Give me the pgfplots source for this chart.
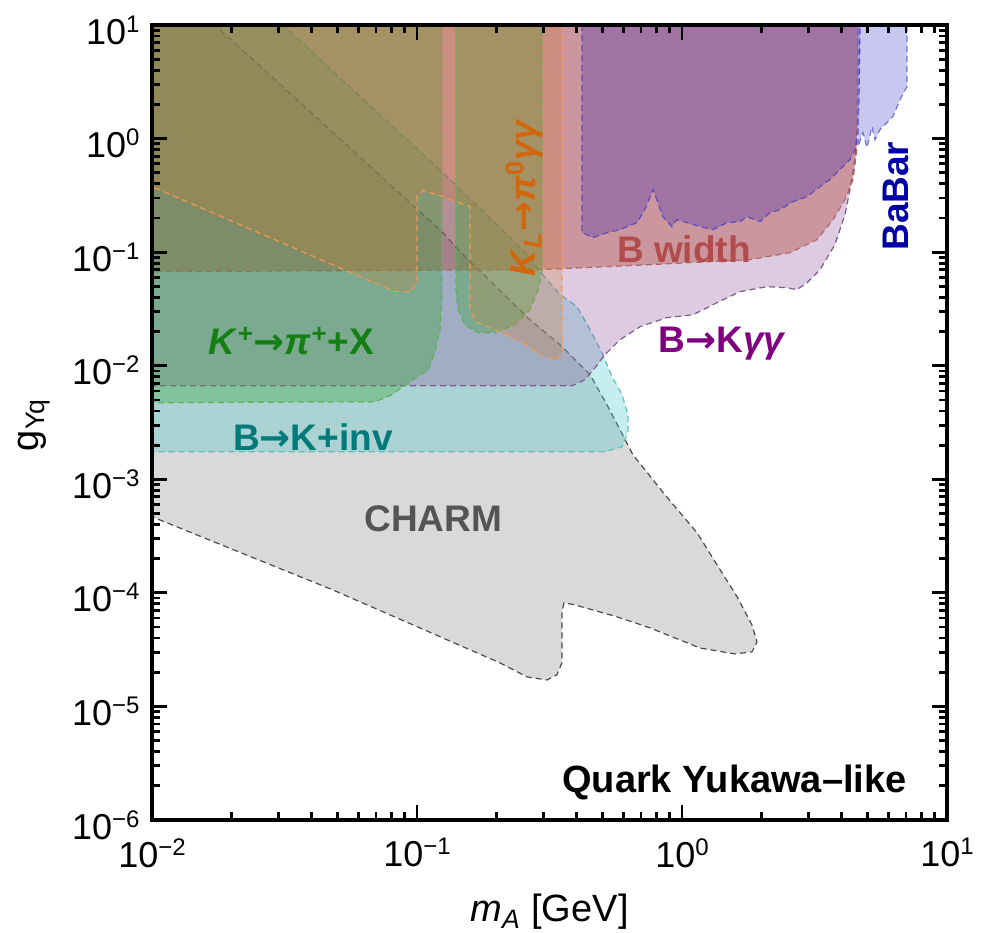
\documentclass[border=0pt]{standalone}
\usepackage{fontspec}
\setmainfont{Liberation Sans}
\newfontfamily\arrowfont{DejaVu Sans}
\usepackage{pgfplots}
\pgfplotsset{compat=1.18}

\definecolor{charmF}{rgb}{0.5,0.5,0.5}
\definecolor{charmD}{rgb}{0.3,0.3,0.3}
\definecolor{tealF}{rgb}{0.28,0.78,0.78}
\definecolor{tealD}{rgb}{0.35,0.75,0.75}
\definecolor{kggF}{rgb}{0.54,0.32,0.61}
\definecolor{kggD}{rgb}{0.5,0.35,0.55}
\definecolor{bwF}{rgb}{0.68,0.2,0.12}
\definecolor{bwD}{rgb}{0.7,0.4,0.4}
\definecolor{dpF}{rgb}{0.32,0.2,0.68}
\definecolor{dpD}{rgb}{0.35,0.3,0.75}
\definecolor{grF}{rgb}{0.2,0.65,0.2}
\definecolor{grD}{rgb}{0.35,0.7,0.35}
\definecolor{orF}{rgb}{0.82,0.48,0.18}
\definecolor{orD}{rgb}{0.95,0.6,0.3}
\definecolor{bbF}{rgb}{0.28,0.28,0.8}
\definecolor{bbD}{rgb}{0.45,0.45,0.85}
% label colours
\definecolor{tGreen}{rgb}{0.08,0.5,0.08}
\definecolor{tTeal}{rgb}{0,0.48,0.48}
\definecolor{tCharm}{rgb}{0.33,0.33,0.33}
\definecolor{tOrange}{rgb}{0.82,0.4,0.05}
\definecolor{tBw}{rgb}{0.7,0.3,0.3}
\definecolor{tPurple}{rgb}{0.5,0,0.5}
\definecolor{tBlue}{rgb}{0,0,0.65}

\newcommand{\tl}[1]{10\raisebox{6pt}{\fontsize{12}{12}\selectfont #1}}
\newcommand{\ar}{{\arrowfont →}}

\begin{document}
\begin{tikzpicture}
\begin{axis}[
  at={(0,0)}, anchor=south west,
  scale only axis, width=397.5pt, height=397.5pt,
  xmode=log, ymode=log,
  xmin=0.01, xmax=10, ymin=1e-6, ymax=10,
  axis on top,
  tick align=inside,
  major tick length=7.5pt, minor tick length=4pt,
  axis line style={line width=1.8pt},
  tick style={black, line width=1.4pt},
  xtick={0.01,0.1,1,10},
  xticklabels={\tl{−2},\tl{−1},\tl{0},\tl{1}},
  ytick={1e-6,1e-5,1e-4,1e-3,1e-2,1e-1,1,10},
  yticklabels={\tl{−6},\tl{−5},\tl{−4},\tl{−3},\tl{−2},\tl{−1},\tl{0},\tl{1}},
  minor xtick={0.02,0.03,0.04,0.05,0.06,0.07,0.08,0.09,0.2,0.3,0.4,0.5,0.6,0.7,0.8,0.9,2,3,4,5,6,7,8,9},
  minor ytick={2e-6,3e-6,4e-6,5e-6,6e-6,7e-6,8e-6,9e-6,2e-5,3e-5,4e-5,5e-5,6e-5,7e-5,8e-5,9e-5,2e-4,3e-4,4e-4,5e-4,6e-4,7e-4,8e-4,9e-4,2e-3,3e-3,4e-3,5e-3,6e-3,7e-3,8e-3,9e-3,0.02,0.03,0.04,0.05,0.06,0.07,0.08,0.09,0.2,0.3,0.4,0.5,0.6,0.7,0.8,0.9,2,3,4,5,6,7,8,9},
  tick label style={font=\fontsize{18}{18}\selectfont},
  xticklabel style={anchor=north, inner sep=0pt, yshift=-9pt},
  yticklabel style={anchor=east, inner sep=0pt, xshift=-6pt, yshift=-2.5pt},
  every axis plot/.append style={dash pattern=on 3pt off 2pt, line width=0.6pt},
]
% CHARM
\addplot[fill=charmF, fill opacity=0.3, draw=charmD] coordinates {
(0.01,10) (0.01729,10) (0.1253,0.1486) (0.1429,0.1052) (0.2667,0.02541) (0.3467,0.01531)
(0.4498,0.00834) (0.5212,0.00453) (0.6531,0.001644) (0.8630,7.30e-4) (1.140,3.38e-4)
(1.614,9.23e-5) (1.837,5.22e-5) (1.919,3.70e-5) (1.837,3.02e-5) (1.585,2.90e-5)
(1.169,3.27e-5) (0.7568,4.92e-5) (0.5689,6.15e-5) (0.3945,7.84e-5) (0.3589,8.17e-5)
(0.3524,6.81e-5) (0.3524,2.42e-5) (0.3373,1.90e-5) (0.3097,1.71e-5) (0.2600,1.82e-5)
(0.2056,2.42e-5) (0.0482,1.06e-4) (0.01,4.68e-4)
} -- cycle;
% B -> K + inv
\addplot[fill=tealF, fill opacity=0.3, draw=tealD] coordinates {
(0.01,10) (0.0312,10) (0.0724,1.626) (0.1253,0.501) (0.2056,0.1644) (0.2667,0.0895)
(0.3041,0.0596) (0.3467,0.0423) (0.4018,0.0331) (0.4498,0.02075) (0.4989,0.01303)
(0.5445,0.00800) (0.5943,0.00555) (0.6252,0.00370) (0.6252,0.00262) (0.5943,0.00193)
(0.5117,0.001746) (0.01,0.001746)
} -- cycle;
% B -> K gamma gamma
\addplot[fill=kggF, fill opacity=0.3, draw=kggD] coordinates {
(0.01,10) (4.613,10) (4.613,1.470) (4.498,0.653) (4.305,0.3556) (4.121,0.2138)
(3.776,0.1164) (3.319,0.0702) (2.965,0.0538) (2.716,0.0468) (2.489,0.0486) (2.094,0.0497)
(1.656,0.0449) (1.355,0.0359) (1.101,0.0281) (0.877,0.0265) (0.695,0.0221) (0.583,0.01694)
(0.5117,0.01250) (0.470,0.00960) (0.4305,0.00753) (0.3846,0.00667) (0.01,0.00667)
} -- cycle;
% B width
\addplot[fill=bwF, fill opacity=0.35, draw=bwD] coordinates {
(0.01,10) (4.613,10) (4.571,0.800) (4.418,0.4355) (4.121,0.2904) (3.715,0.1932)
(3.230,0.1288) (2.557,0.0990) (1.806,0.0859) (0.7568,0.0776) (0.2911,0.0702) (0.01,0.0673)
} -- cycle;
% dark purple region
\addplot[fill=dpF, fill opacity=0.35, draw=dpD] coordinates {
(0.4198,10) (0.4198,0.1486) (0.4613,0.1342) (0.5212,0.1486) (0.583,0.1578) (0.676,0.1820)
(0.7244,0.2366) (0.7780,0.3556) (0.8110,0.2729) (0.8472,0.2056) (0.9162,0.1679) (0.9572,0.1932)
(1.045,0.1820) (1.169,0.1679) (1.309,0.1578) (1.479,0.1820) (1.656,0.1857) (1.758,0.2056)
(1.968,0.1857) (2.148,0.2228) (2.344,0.2366) (2.624,0.2786) (2.965,0.3083) (3.319,0.3776)
(3.614,0.4355) (3.945,0.5333) (4.305,0.653) (4.498,0.800) (4.613,1.130) (4.656,2.206) (4.699,10)
} -- cycle;
% K+ -> pi+ X (two pieces)
\addplot[fill=grF, fill opacity=0.35, draw=grD] coordinates {
(0.01,10) (0.1241,10) (0.1241,0.0381) (0.1222,0.02075) (0.1169,0.01327) (0.1102,0.00923)
(0.0942,0.00723) (0.0791,0.00544) (0.0695,0.00482) (0.01,0.00472)
} -- cycle;
\addplot[fill=grF, fill opacity=0.35, draw=grD] coordinates {
(0.1403,10) (0.2965,10) (0.2965,0.0702) (0.2864,0.0468) (0.2667,0.0311) (0.2344,0.0230)
(0.1968,0.01954) (0.1698,0.01954) (0.1517,0.0230) (0.1429,0.0311) (0.1403,0.0468)
} -- cycle;
% K_L -> pi0 gamma gamma
\addplot[fill=orF, fill opacity=0.25, draw=orD] coordinates {
(0.01,10) (0.3524,10) (0.3524,0.01250) (0.3319,0.01130) (0.2911,0.01250) (0.2512,0.01595)
(0.1884,0.02163) (0.1671,0.02443) (0.1585,0.0311) (0.1585,0.2518) (0.1222,0.3148)
(0.1054,0.3483) (0.1,0.3148) (0.1,0.0538) (0.0942,0.0449) (0.0826,0.0449) (0.01,0.3776)
} -- cycle;
% BaBar
\addplot[fill=bbF, fill opacity=0.3, draw=bbD] coordinates {
(4.613,10) (7.063,10) (7.063,2.871) (6.653,2.206) (6.252,1.563) (5.585,1.200) (5.346,0.9795)
(5.212,1.276) (4.989,0.8337) (4.819,1.130) (4.613,0.851)
} -- cycle;

% labels
\node[anchor=base, inner sep=0pt, text=tGreen, font=\bfseries\fontsize{18.5}{18.5}\selectfont]
  at (axis cs:0.0336,0.0125) {\textit{K}\textsuperscript{+}\ar\textit{π}\textsuperscript{+}+X};
\node[anchor=base, inner sep=0pt, text=tTeal, font=\bfseries\fontsize{18.5}{18.5}\selectfont]
  at (axis cs:0.0405,0.00178) {B\ar K+inv};
\node[anchor=base, inner sep=0pt, text=tCharm, font=\bfseries\fontsize{18.5}{18.5}\selectfont]
  at (axis cs:0.1153,3.44e-4) {CHARM};
\node[anchor=base, inner sep=0pt, text=tBw, font=\bfseries\fontsize{18.5}{18.5}\selectfont]
  at (axis cs:1.018,0.0807) {B width};
\node[anchor=base, inner sep=0pt, text=tPurple, font=\bfseries\fontsize{18.5}{18.5}\selectfont]
  at (axis cs:1.422,0.01303) {B\ar K\textit{γγ}};
\node[anchor=base, inner sep=0pt, rotate=90, text=tBlue, font=\bfseries\fontsize{18.5}{18.5}\selectfont]
  at (axis cs:7.13,0.311) {BaBar};
\node[anchor=base, inner sep=0pt, rotate=90, text=tOrange, font=\bfseries\fontsize{18}{18}\selectfont]
  at (axis cs:0.2812,0.302) {\textit{K}\textsubscript{\textit{L}}\ar\textit{π}\textsuperscript{0}\textit{γγ}};
\node[anchor=base east, inner sep=0pt, text=black, font=\bfseries\fontsize{19}{19}\selectfont]
  at (axis cs:7.063,1.73e-6) {Quark Yukawa–like};
\end{axis}
% axis labels
\node[anchor=base, inner sep=0pt, font=\fontsize{19}{19}\selectfont] at (198.75pt,-51pt)
  {\textit{m}\textsubscript{\textit{A}} [GeV]};
\node[rotate=90, inner sep=0pt, font=\fontsize{19}{19}\selectfont] at (-59pt,197.5pt)
  {g\textsubscript{Yq}};
\pgfresetboundingbox
\path[use as bounding box] (-76pt,-56.5pt) rectangle (415pt,410pt);
\end{tikzpicture}
\end{document}
